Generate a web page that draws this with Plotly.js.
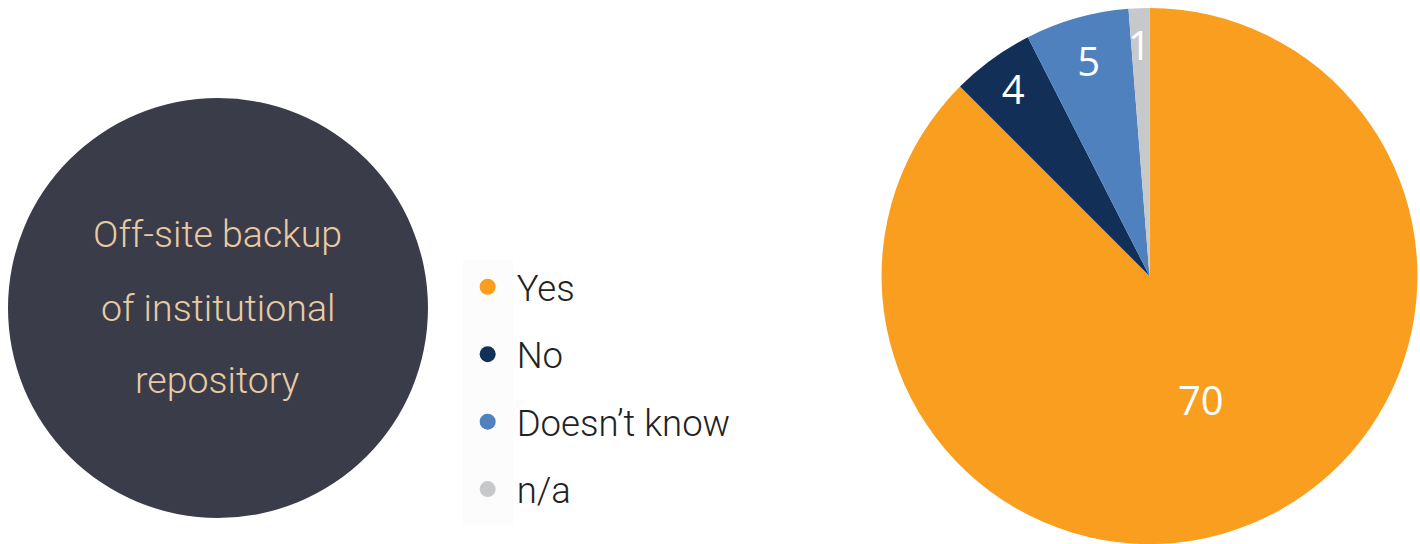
<!DOCTYPE html>
<html>
<head>
<meta charset="utf-8">
<script src="https://cdn.plot.ly/plotly-3.0.1.min.js"></script>
<style>
  html, body { margin: 0; padding: 0; background: #ffffff; }
  #chart { width: 1420px; height: 544px; }
</style>
</head>
<body>
<div id="chart"></div>
<script>
// ---- data ----
const categories = ["Yes", "No", "Doesn\u2019t know", "n/a"];
const counts = [70, 4, 5, 1];
const sliceColors = ["#F99E1E", "#112F57", "#4E81BD", "#C7C8CA"];
const titleLines = ["Off-site backup", "of institutional", "repository"];

// ---- traces ----
const traces = [];
traces.push({
  type: "pie",
  labels: categories,
  values: counts,
  sort: false,
  direction: "clockwise",
  rotation: 0,
  marker: { colors: sliceColors, line: { width: 0 } },
  texttemplate: ["%{value}", "%{value}", "%{value}", "&nbsp;<br>%{value}"],
  textposition: "inside",
  insidetextorientation: "horizontal",
  textfont: { color: "#ffffff", size: 40, family: "Open Sans, Noto Sans, sans-serif" },
  domain: { x: [0.6208, 0.9982], y: [0, 1] },
  showlegend: false,
  hoverinfo: "label+value"
});
categories.forEach((c, i) => {
  traces.push({
    type: "scatter",
    mode: "markers",
    x: [null], y: [null],
    name: c,
    legendgroup: "g" + i,
    marker: { color: sliceColors[i], size: 20, symbol: "circle" },
    showlegend: true,
    hoverinfo: "skip"
  });
});

const titleFont = { family: "Roboto, Liberation Sans, sans-serif", size: 37.5, color: "#E9CBA3", weight: 300 };
const lineY = [0.578, 0.4403, 0.306];
const annotations = titleLines.map((t, i) => ({
  xref: "paper", yref: "paper",
  x: 0.1535, y: lineY[i],
  xanchor: "center", yanchor: "middle",
  text: t, showarrow: false,
  font: titleFont
}));

const layout = {
  width: 1420, height: 544,
  margin: { l: 0, r: 0, t: 8, b: 0 },
  paper_bgcolor: "#ffffff",
  plot_bgcolor: "rgba(0,0,0,0)",
  xaxis: { visible: false, domain: [0, 0.01] },
  yaxis: { visible: false },
  showlegend: true,
  uniformtext: { mode: "show", minsize: 40 },
  legend: {
    x: 0.323, xanchor: "left",
    y: 0.291, yanchor: "middle",
    bgcolor: "rgba(0,0,0,0)",
    itemwidth: 48,
    font: { family: "Roboto, Liberation Sans, sans-serif", size: 36.5, color: "#222222", weight: 300 },
    tracegroupgap: 17,
    itemclick: false, itemdoubleclick: false
  },
  shapes: [
    {
      type: "rect", xref: "paper", yref: "paper", layer: "below",
      x0: 0.326, x1: 0.3613, y0: 0.0354, y1: 0.530,
      fillcolor: "#FCFCFC", line: { width: 0 }
    },
    {
      type: "circle", xref: "paper", yref: "paper", layer: "below",
      x0: 0.00563, x1: 0.3014, y0: 0.0485, y1: 0.832,
      fillcolor: "#3B3C4A", line: { width: 0 }
    }
  ],
  annotations: annotations
};

Plotly.newPlot("chart", traces, layout, { displayModeBar: false, staticPlot: true });
</script>
</body>
</html>
